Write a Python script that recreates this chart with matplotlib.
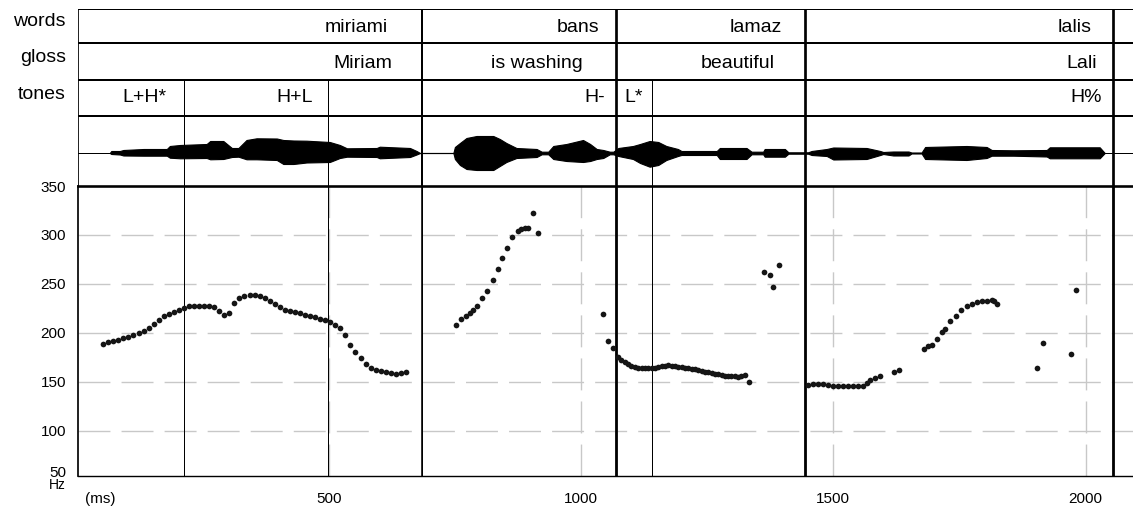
import numpy as np
import matplotlib.pyplot as plt

plt.rcParams['font.family'] = ['Liberation Sans', 'DejaVu Sans']

# annotation tiers (times in ms)
words = ['miriami', 'bans', 'lamaz', 'lalis']
word_label_t = [617, 1037, 1398, 2012]
word_ends = [685, 1069, 1444, 2054]
gloss = ['Miriam', 'is washing', 'beautiful', 'Lali']
gloss_label_t = [625, 1004, 1384, 2022]
tones = ['L+H*', 'H+L', 'H-', 'L*', 'H%']
tone_label_t = [179, 469, 1047, 1123, 2032]
tone_ends = [213, 498, 685, 1069, 1141, 2054]

# pitch track (ms, Hz)
t_miriami = [53, 63, 73, 83, 93, 103, 113, 123, 133, 143, 153, 163, 173, 183, 193,
             203, 213, 223, 233, 243, 253, 263, 273, 283, 293, 303, 313, 323, 333,
             343, 353, 363, 373, 383, 393, 403, 413, 423, 433, 443, 453, 463, 473,
             483, 493, 503, 513, 523, 533, 543, 553, 563, 573, 583, 593, 603, 613,
             623, 633, 643, 653]
hz_miriami = [188, 190, 191.5, 193, 194.5, 196, 198, 200, 202, 205, 209, 213, 217,
              219, 221, 223, 225, 227, 227.5, 227.5, 227.5, 227, 226, 222.5, 218.3,
              220.5, 230.5, 235.3, 237.6, 239, 238.5, 237.5, 235.5, 232.5, 229, 226,
              223.5, 222.5, 221.5, 220, 218.5, 217, 216, 214.5, 213, 210.5, 208,
              204.5, 197.5, 187.5, 180.5, 174, 168.5, 164, 162, 160.5, 159.5, 158.5,
              158, 158.5, 160]
t_bans = [753, 763, 773, 780, 786, 793, 803, 813, 825, 836, 843, 854, 864, 876, 882,
          889, 895, 905, 915]
hz_bans = [208, 214, 217, 220, 223, 227, 235, 243, 254, 265, 276, 287, 298, 304, 306,
           307.5, 307.5, 322, 302]
t_lamaz = [1043, 1054, 1064, 1074, 1080, 1087, 1094, 1100, 1107, 1113, 1120, 1127,
           1133, 1140, 1147, 1153, 1160, 1166, 1173, 1180, 1186, 1193, 1200, 1206,
           1213, 1219, 1226, 1232, 1239, 1246, 1252, 1259, 1266, 1272, 1279, 1285,
           1292, 1298, 1305, 1312, 1318, 1325, 1333, 1362, 1374, 1381, 1392]
hz_lamaz = [219.2, 191.7, 183.9, 175, 172, 169.7, 167.5, 166.3, 164.8, 164, 163.7,
            163.6, 163.6, 163.6, 164, 164.6, 165.5, 166.3, 166.5, 166.3, 165.6, 164.9,
            164.5, 164, 163.6, 163.2, 162.7, 161.8, 161, 160.2, 159.5, 158.8, 158,
            157.3, 156.6, 156.1, 156.1, 156.1, 155.7, 155.2, 155.8, 157.1, 149.3,
            261.6, 259.3, 247, 269]
t_lalis = [1450, 1460, 1470, 1480, 1490, 1500, 1510, 1520, 1530, 1539, 1549, 1559,
           1566, 1572, 1582, 1592, 1620, 1631, 1680, 1688, 1695, 1705, 1715, 1721,
           1732, 1743, 1754, 1764, 1774, 1784, 1794, 1804, 1814, 1818, 1824,
           1904, 1915, 1972, 1982]
hz_lalis = [146.8, 147.5, 147.5, 147.5, 146.2, 145.8, 145.8, 145.8, 145.8, 145.8,
            145.8, 145.8, 148.6, 152, 153.3, 155.4, 159.5, 161.5, 183.6, 186, 187.7,
            193.5, 200.3, 203.7, 211.5, 216.7, 223.5, 226.9, 229.3, 231, 232, 232,
            233.7, 232, 229.6, 163.9, 189.4, 178.5, 243.2]

# waveform envelope (ms, amplitude above / below the zero line)
wave_t = [66, 69, 86, 93, 133, 179, 185, 205, 258, 265, 291, 308, 321, 337, 357, 397,
          410, 430, 456, 502, 522, 536, 595, 601, 661, 674, 681, 747, 750, 760, 773,
          793, 826, 839, 852, 872, 912, 922, 935, 945, 971, 1004, 1018, 1031, 1044,
          1057, 1064, 1074, 1103, 1117, 1136, 1153, 1169, 1192, 1199, 1269, 1275, 1328,
          1338, 1361, 1364, 1404, 1411, 1450, 1457, 1487, 1500, 1566, 1593, 1599, 1619,
          1649, 1655, 1675, 1682, 1764, 1804, 1814, 1857, 1923, 1929, 2028, 2038]
wave_up = [0, 2, 2, 3, 4, 4, 7, 8, 9, 12, 12, 5, 5, 13, 14.7, 14.5, 13, 12.5, 12.3, 11,
           8, 4.7, 5, 6.3, 5, 2, 0, 0, 6, 10, 15, 17, 17, 14, 10, 5, 4, 1.3, 1.3, 7, 9,
           13, 9, 4, 3, 1.3, 1.3, 5, 7, 9, 12, 11, 7, 4, 2, 2, 5, 5, 1.3, 1.3, 4, 4, 0.7,
           0.7, 2, 4, 5.5, 5, 2, 1, 1.5, 1.5, 0.5, 0.5, 6, 7, 6, 3, 2.7, 3, 5.7, 5.7, 0]
wave_dn = [0, 1, 1.5, 2.5, 2.7, 2.7, 4.7, 5.3, 5, 6.3, 6, 4, 3.7, 6.3, 6.3, 7, 11, 11,
           9.5, 9, 5, 3.7, 4, 5.3, 4, 1.5, 0, 0, 6, 12, 16, 17, 17, 13, 9, 5, 4, 1.3, 1.3,
           6, 8, 9, 8, 6, 5, 1.3, 1.3, 3, 6, 10, 13.7, 12, 7, 3, 2, 2, 6, 6, 1.3, 1.3,
           3.7, 3.7, 0.7, 0.7, 2, 3, 6.5, 6, 2, 1, 2.5, 2.5, 0.5, 0.5, 6, 7, 5, 2.7, 2.7,
           3.5, 5.3, 5.3, 0]

W, H = 1133, 507
fig = plt.figure(figsize=(W / 100, H / 100), dpi=100)


def box(x0, y0, x1, y1):
    return [x0 / W, 1 - y1 / H, (x1 - x0) / W, (y1 - y0) / H]


ax_t = fig.add_axes(box(78, 9, W, 186))
ax_p = fig.add_axes(box(78, 186, W, 476), sharex=ax_t)
ax_p.set_xlim(3, 2094)

# --- tiers ---
ax_t.set_ylim(177, 0)
ax_t.axis('off')
k = 0.72
ax_t.axhline(0, color='black', lw=2 * k)
for y in (34, 71, 107):
    ax_t.axhline(y, color='black', lw=2 * k)
ax_t.axhline(144, color='black', lw=1 * k)
ax_t.axvline(3, color='black', lw=1.7 * k)
ax_t.vlines(tone_ends, 71, 177, color='black', lw=1 * k)
for i, t in enumerate(word_ends):
    ax_t.vlines(t, 0, 177, color='black', lw=(2 if i == 0 else 2.7) * k)

fs = 14
for lab, t in zip(words, word_label_t):
    ax_t.text(t, 18, lab, ha='right', va='center', fontsize=fs)
for lab, t in zip(gloss, gloss_label_t):
    ax_t.text(t, 54, lab, ha='right', va='center', fontsize=fs)
for lab, t in zip(tones, tone_label_t):
    ax_t.text(t, 89, lab, ha='right', va='center', fontsize=fs)

ax_t.fill_between(wave_t, 144 - np.array(wave_up), 144 + np.array(wave_dn),
                  color='black', lw=0.8)

for lab, y in (('words', 22), ('gloss', 58), ('tones', 94)):
    fig.text(66 / W, 1 - y / H, lab, ha='right', va='center', fontsize=fs)

# --- pitch ---
ax_p.set_ylim(53.5, 350)
grid = dict(color='#c8c8c8', lw=1.0, ls=(0, (23, 8)), zorder=0)
for y in (100, 150, 200, 250, 300):
    ax_p.axhline(y, **grid)
for x in (500, 1000, 1500, 2000):
    ax_p.axvline(x, **grid)
ax_p.vlines(tone_ends, 53.5, 350, color='black', lw=1 * k, zorder=2)
for i, t in enumerate(word_ends):
    ax_p.vlines(t, 53.5, 350, color='black', lw=(1.6 if i == 0 else 2.8) * k, zorder=2)

for t, hz in ((t_miriami, hz_miriami), (t_bans, hz_bans),
              (t_lamaz, hz_lamaz), (t_lalis, hz_lalis)):
    ax_p.plot(t, hz, 'o', ms=4.1, color='#151515', mec='none', zorder=3)

ax_p.spines['right'].set_visible(False)
ax_p.spines['top'].set_linewidth(2.6 * k)
ax_p.spines['left'].set_linewidth(1.7 * k)
ax_p.spines['bottom'].set_linewidth(1.4 * k)
ax_p.set_yticks([100, 150, 200, 250, 300, 350])
ax_p.set_xticks([500, 1000, 1500, 2000])
ax_p.tick_params(axis='y', length=0, pad=8.5, labelsize=11)
ax_p.tick_params(axis='x', length=0, pad=11.5, labelsize=11)
fig.text(66 / W, 1 - 473 / H, '50', ha='right', va='center', fontsize=11)
fig.text(66 / W, 1 - 485 / H, 'Hz', ha='right', va='center', fontsize=10)
fig.text(100 / W, 1 - 499 / H, '(ms)', ha='center', va='center', fontsize=11)

fig.savefig('out.png', dpi=100)
